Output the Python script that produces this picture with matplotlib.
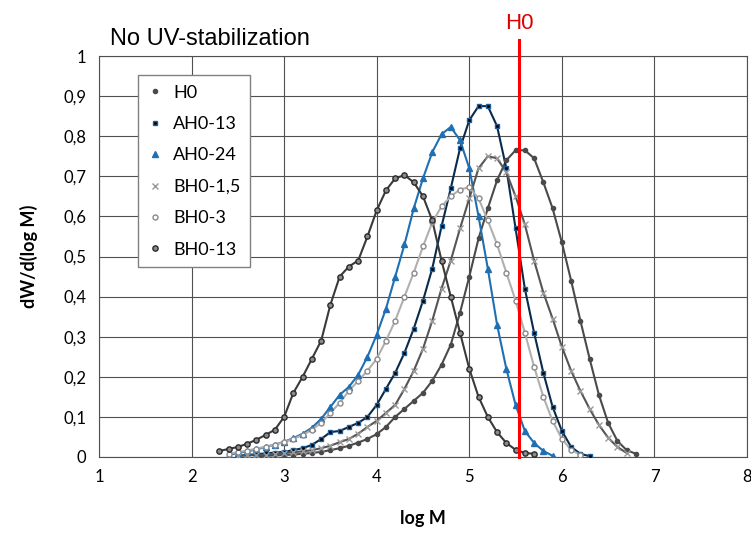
import matplotlib
matplotlib.use("Agg")
import matplotlib.pyplot as plt
import numpy as np

# log M grids (step 0.1) and dW/d(log M) values
logm_h0 = np.round(np.arange(2.7, 6.85, 0.1), 2)
h0 = [0.002, 0.003, 0.004, 0.005, 0.006, 0.008, 0.010, 0.013, 0.017, 0.022,
      0.028, 0.036, 0.045, 0.057, 0.075, 0.100, 0.120, 0.140, 0.160, 0.190,
      0.230, 0.280, 0.360, 0.450, 0.545, 0.620, 0.690, 0.740, 0.765, 0.765,
      0.745, 0.685, 0.620, 0.535, 0.440, 0.340, 0.245, 0.155, 0.085, 0.040,
      0.017, 0.008]

logm_ah13 = np.round(np.arange(2.5, 6.35, 0.1), 2)
ah0_13 = [0.003, 0.005, 0.007, 0.009, 0.011, 0.013, 0.017, 0.022, 0.030, 0.045,
          0.062, 0.065, 0.075, 0.085, 0.100, 0.130, 0.170, 0.210, 0.260, 0.320,
          0.390, 0.470, 0.575, 0.670, 0.770, 0.840, 0.875, 0.875, 0.825, 0.720,
          0.570, 0.420, 0.310, 0.210, 0.125, 0.065, 0.025, 0.008, 0.002]

logm_ah24 = np.round(np.arange(2.4, 5.95, 0.1), 2)
ah0_24 = [0.005, 0.010, 0.014, 0.019, 0.025, 0.031, 0.038, 0.047, 0.058, 0.073,
          0.095, 0.125, 0.155, 0.175, 0.205, 0.250, 0.305, 0.370, 0.450, 0.530,
          0.620, 0.695, 0.760, 0.805, 0.823, 0.790, 0.720, 0.600, 0.470, 0.330,
          0.220, 0.130, 0.065, 0.035, 0.015, 0.003]

logm_bh15 = np.round(np.arange(2.5, 6.75, 0.1), 2)
bh0_15 = [0.003, 0.004, 0.005, 0.006, 0.008, 0.010, 0.012, 0.014, 0.017, 0.022,
          0.028, 0.037, 0.045, 0.058, 0.075, 0.090, 0.110, 0.130, 0.170, 0.215,
          0.270, 0.340, 0.420, 0.490, 0.570, 0.645, 0.720, 0.750, 0.745, 0.710,
          0.650, 0.580, 0.490, 0.410, 0.345, 0.275, 0.215, 0.165, 0.120, 0.080,
          0.048, 0.025, 0.010]

logm_bh3 = np.round(np.arange(2.4, 6.25, 0.1), 2)
bh0_3 = [0.008, 0.012, 0.016, 0.021, 0.026, 0.031, 0.037, 0.045, 0.055, 0.068,
         0.085, 0.110, 0.135, 0.165, 0.190, 0.215, 0.245, 0.290, 0.340, 0.400,
         0.460, 0.525, 0.585, 0.625, 0.650, 0.667, 0.673, 0.645, 0.590, 0.530,
         0.460, 0.390, 0.310, 0.225, 0.150, 0.090, 0.045, 0.018, 0.005]

logm_bh13 = np.round(np.arange(2.3, 5.75, 0.1), 2)
bh0_13 = [0.015, 0.020, 0.025, 0.033, 0.043, 0.055, 0.068, 0.100, 0.160, 0.200,
          0.245, 0.290, 0.380, 0.450, 0.475, 0.490, 0.550, 0.615, 0.665, 0.695,
          0.703, 0.685, 0.650, 0.590, 0.490, 0.400, 0.310, 0.220, 0.150, 0.100,
          0.062, 0.035, 0.018, 0.010, 0.008]

h0_mark = 5.54
series_names = ["H0", "AH0-13", "AH0-24", "BH0-1,5", "BH0-3", "BH0-13"]

fig = plt.figure(figsize=(7.51, 5.33), dpi=100)
ax = fig.add_axes([0.1318, 0.1426, 0.8629, 0.7523])

# (x, y, marker, face, edge, size, line colour)
styles = [
    (logm_h0, h0, "o", "#4a4a4a", "#4a4a4a", 3.0, "#4a4a4a"),
    (logm_ah13, ah0_13, "s", "#000000", "#1f5f99", 3.2, "#0a2a4a"),
    (logm_ah24, ah0_24, "^", "#1f6fb2", "#1f6fb2", 4.0, "#1f6fb2"),
    (logm_bh15, bh0_15, "x", "#9a9a9a", "#9a9a9a", 4.0, "#555555"),
    (logm_bh3, bh0_3, "o", "white", "#8a8a8a", 3.6, "#b0b0b0"),
    (logm_bh13, bh0_13, "o", "#8a8a8a", "#2a2a2a", 3.8, "#3a3a3a"),
]

handles = []
for (x, y, m, fc, ec, ms, lc), name in zip(styles, series_names):
    ax.plot(x, y, "-", color=lc, lw=1.5, zorder=2)
    h, = ax.plot(x, y, linestyle="none", marker=m, markersize=ms,
                 markerfacecolor=fc, markeredgecolor=ec, markeredgewidth=1.0,
                 label=name, zorder=3)
    handles.append(h)

ax.plot([h0_mark, h0_mark], [0, 1.04], color="red", lw=2.2, clip_on=False, zorder=4)
ax.text(h0_mark, 1.055, "H0", color="#e00000", fontsize=16, ha="center",
        va="bottom", family="Liberation Sans")

ax.set_xlim(1, 8)
ax.set_ylim(0, 1)
ax.set_xticks(np.arange(1, 9))
ax.set_yticks(np.round(np.arange(0, 1.01, 0.1), 1))
ax.set_yticklabels([("%g" % v).replace(".", ",") for v in np.round(np.arange(0, 1.01, 0.1), 1)])
ax.grid(True, color="#505050", lw=0.8)
ax.set_axisbelow(True)
for s in ax.spines.values():
    s.set_color("#505050")
    s.set_linewidth(0.8)
ax.tick_params(length=0, labelsize=12, pad=9)
for lab in ax.get_xticklabels() + ax.get_yticklabels():
    lab.set_family("Lato")

ax.set_xlabel("log M", fontsize=13, fontweight="bold", family="Lato", labelpad=18)
ax.set_ylabel("dW/d(log M)", fontsize=13, fontweight="bold", family="Lato", labelpad=18)

fig.text(0.147, 0.915, "No UV-stabilization", fontsize=17, family="Liberation Sans")

leg = ax.legend(handles=handles, loc="upper left", bbox_to_anchor=(0.06, 0.953),
                borderaxespad=0, fontsize=13, labelspacing=0.85, handlelength=0.8,
                handletextpad=0.6, borderpad=0.55, fancybox=False, framealpha=1,
                edgecolor="#808080")
for t in leg.get_texts():
    t.set_family("Lato")

fig.savefig("out.png", dpi=100)
